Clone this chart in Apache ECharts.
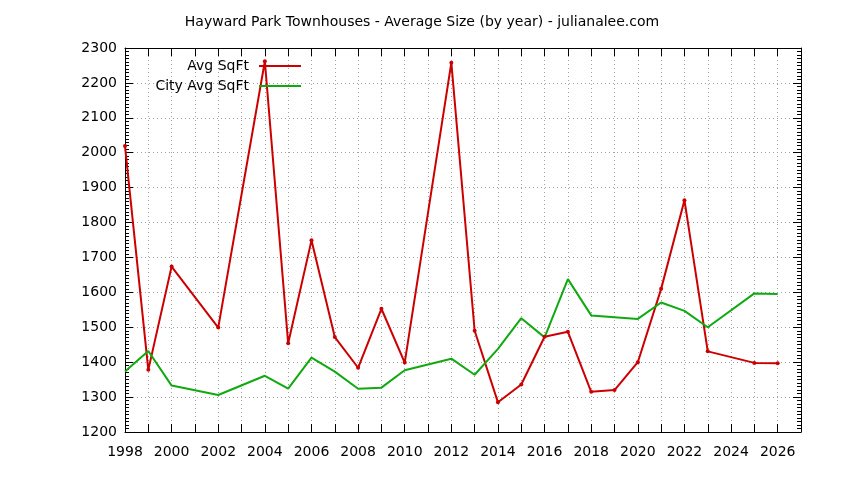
<!DOCTYPE html>
<html><head><meta charset="utf-8">
<script src="https://cdn.jsdelivr.net/npm/echarts@6/dist/echarts.min.js"></script>
<style>html,body{margin:0;padding:0;background:#fff}#c{width:844px;height:480px}</style>
</head><body><div id="c"></div>
<script>
var avgYears = [1998,1999,2000,2002,2004,2005,2006,2007,2008,2009,2010,2012,2013,2014,2015,2016,2017,2018,2019,2020,2021,2022,2023,2025,2026];
var avgSqft  = [2019,1378,1674,1499,2262,1454,1749,1472,1384,1553,1399,2258,1490,1285,1336,1473,1487,1315,1320,1400,1610,1864,1431,1398,1397];
var cityYears = [1998,1999,2000,2002,2004,2005,2006,2007,2008,2009,2010,2012,2013,2014,2015,2016,2017,2018,2020,2021,2022,2023,2025,2026];
var citySqft  = [1373,1432,1333,1306,1361,1324,1413,1373,1324,1327,1377,1410,1364,1438,1526,1471,1638,1534,1524,1571,1547,1500,1597,1595];
var xTickLabels = [1998,2000,2002,2004,2006,2008,2010,2012,2014,2016,2018,2020,2022,2024,2026];
var seriesNames = ['Avg SqFt','City Avg SqFt'];
var titleText = 'Hayward Park Townhouses - Average Size (by year) - julianalee.com';

function pairs(xs, ys){ return xs.map(function(x,i){return [x, ys[i]];}); }
var FONT = 'DejaVu Sans';
var dotted = {show:true, lineStyle:{color:'#a0a0a0', type:[1,3], width:1}};
var axLine = {show:true, onZero:false, lineStyle:{color:'#000', width:1}};
var RED = '#cc0000', GREEN = '#10aa10';

var chart = echarts.init(document.getElementById('c'), null, {renderer:'canvas'});
chart.setOption({
  animation:false,
  backgroundColor:'#fff',
  title:{text:titleText, left:'center', top:10, textStyle:{fontFamily:FONT, fontSize:14, fontWeight:'normal', color:'#000'}},
  grid:{left:125, right:43, top:48, bottom:48, containLabel:false},
  legend:[
    {data:[{name:seriesNames[0], icon:'rect'}], right:538, top:54, itemWidth:42, itemHeight:2, align:'right',
     itemStyle:{color:RED}, textStyle:{fontFamily:FONT, fontSize:14, color:'#000', padding:[0,5,0,0]}},
    {data:[{name:seriesNames[1], icon:'rect'}], right:538, top:74, itemWidth:42, itemHeight:2, align:'right',
     itemStyle:{color:GREEN}, textStyle:{fontFamily:FONT, fontSize:14, color:'#000', padding:[0,5,0,0]}}
  ],
  xAxis:[
    {type:'value', min:1998, max:2027, interval:1, position:'bottom',
     axisLine:axLine, axisTick:{show:true, inside:true, length:8, lineStyle:{color:'#000'}},
     axisLabel:{margin:13, fontFamily:FONT, fontSize:14, color:'#000',
       formatter:function(v){ return xTickLabels.indexOf(v) >= 0 ? String(v) : ''; }},
     splitLine:dotted},
    {type:'value', min:1998, max:2027, interval:1, position:'top',
     axisLine:axLine, axisTick:{show:true, inside:true, length:8, lineStyle:{color:'#000'}},
     axisLabel:{show:false}, splitLine:{show:false}}
  ],
  yAxis:[
    {type:'value', min:1200, max:2300, interval:100, position:'left',
     axisLine:axLine, axisTick:{show:true, inside:true, length:8, lineStyle:{color:'#000'}},
     minorTick:{show:true, splitNumber:10, length:4, lineStyle:{color:'#000'}},
     axisLabel:{margin:8, fontFamily:FONT, fontSize:14, color:'#000', formatter:function(v){return String(v);}},
     splitLine:dotted},
    {type:'value', min:1200, max:2300, interval:100, position:'right',
     axisLine:axLine, axisTick:{show:true, inside:true, length:8, lineStyle:{color:'#000'}},
     minorTick:{show:true, splitNumber:10, length:4, lineStyle:{color:'#000'}},
     axisLabel:{show:false}, splitLine:{show:false}}
  ],
  series:[
    {name:seriesNames[0], type:'line', xAxisIndex:0, yAxisIndex:0, data:pairs(avgYears, avgSqft),
     color:RED, symbol:'circle', symbolSize:4, showSymbol:true,
     lineStyle:{width:2, color:RED}, itemStyle:{color:RED}},
    {name:seriesNames[1], type:'line', xAxisIndex:0, yAxisIndex:0, data:pairs(cityYears, citySqft),
     color:GREEN, symbol:'none', showSymbol:false,
     lineStyle:{width:2, color:GREEN}, itemStyle:{color:GREEN}}
  ]
});
</script></body></html>
